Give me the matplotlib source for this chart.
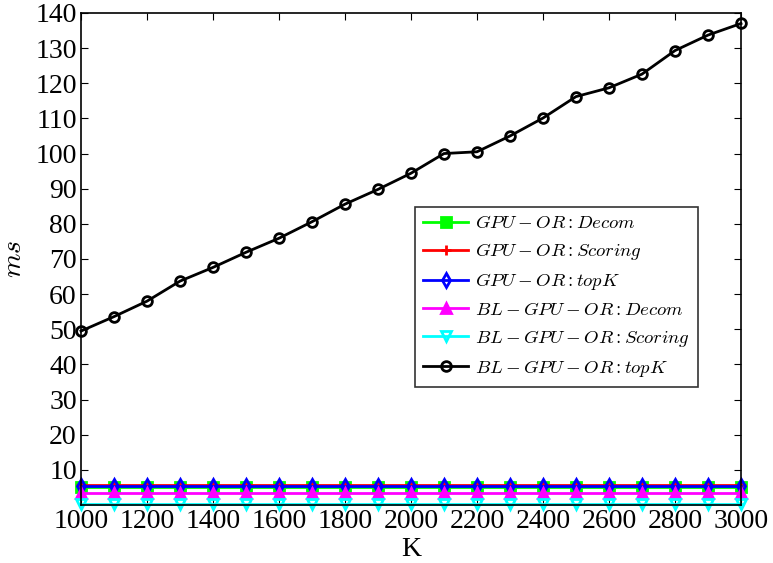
import numpy as np
import matplotlib
matplotlib.use("Agg")
import matplotlib.pyplot as plt

plt.rcParams["font.family"] = ["Liberation Serif", "DejaVu Serif"]
plt.rcParams["mathtext.fontset"] = "cm"

# K values on the x axis
k_values = [1000, 1100, 1200, 1300, 1400, 1500, 1600, 1700, 1800, 1900, 2000,
            2100, 2200, 2300, 2400, 2500, 2600, 2700, 2800, 2900, 3000]
n = len(k_values)

# per-stage times in ms
gpu_decom = [5.2] * n
gpu_scoring = [5.6] * n
gpu_topk = [5.3] * n
bl_decom = [3.5] * n
bl_scoring = [0.4] * n
bl_topk = [49.5, 53.6, 58.0, 63.7, 67.6, 71.9, 75.9, 80.6, 85.6, 89.8, 94.4,
           100.0, 100.5, 105.0, 110.1, 116.2, 118.7, 122.6, 129.3, 133.7, 137.0]

series = [
    (gpu_decom, r"$GPU-OR:Decom$", "#00ff00", "s", "#00ff00"),
    (gpu_scoring, r"$GPU-OR:Scoring$", "#ff0000", "+", "#ff0000"),
    (gpu_topk, r"$GPU-OR:topK$", "#0000ff", "d", "none"),
    (bl_decom, r"$BL-GPU-OR:Decom$", "#ff00ff", "^", "#ff00ff"),
    (bl_scoring, r"$BL-GPU-OR:Scoring$", "#00ffff", "v", "none"),
    (bl_topk, r"$BL-GPU-OR:topK$", "black", "o", "none"),
]

fig = plt.figure(figsize=(7.73, 5.63), dpi=100)
ax = fig.add_axes([0.1048, 0.103, 0.8538, 0.874])

for vals, label, color, marker, face in series:
    ax.plot(k_values, vals, color=color, lw=2, marker=marker, ms=7,
            mew=2, mfc=face, mec=color, label=label, clip_on=False)

ax.set_xlim(1000, 3000)
ax.set_ylim(0, 140)
ax.set_xticks(range(1000, 3001, 200))
ax.set_yticks(range(10, 141, 10))
ax.tick_params(direction="in", top=True, right=True, length=5,
               labelsize=20, pad=3)
for s in ax.spines.values():
    s.set_linewidth(1.2)

ax.set_xlabel("K", fontsize=20, labelpad=2)
ax.set_ylabel(r"$ms$", fontsize=20, labelpad=6)

leg = ax.legend(loc="upper left", bbox_to_anchor=(0.506, 0.606),
                fontsize=13.5, frameon=True, fancybox=False,
                borderaxespad=0, handlelength=2.4, handletextpad=0.35,
                labelspacing=0.48, borderpad=0.45)
leg.get_frame().set_edgecolor("black")
leg.get_frame().set_linewidth(1.2)

fig.savefig("out.png", dpi=100)
